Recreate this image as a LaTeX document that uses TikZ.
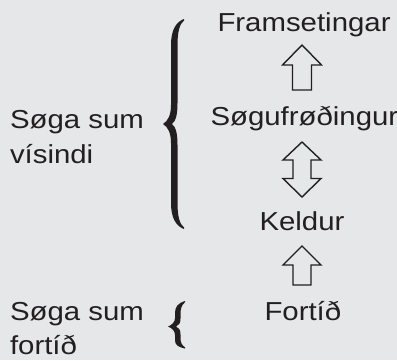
\documentclass[tikz,border=0pt]{standalone}
\usepackage{fontspec}
\setmainfont[FakeStretch=1.13]{Liberation Sans}
\definecolor{bg}{HTML}{E6E7E8}
\definecolor{ink}{HTML}{231F20}
\tikzset{
  lbl/.style={anchor=base west, inner sep=0pt, outer sep=0pt, text=ink, font=\fontsize{26}{34}\selectfont},
  blockarrow/.style={draw=ink, line width=1.4pt, line join=miter, fill=bg},
  bracefill/.style={fill=ink, draw=none}
}
\begin{document}
\begin{tikzpicture}[x=1pt,y=-1pt]
\fill[bg] (0,0) rectangle (397,360);
\useasboundingbox (0,0) rectangle (397,360);
% central column
\node[lbl] (fram) at (217.5,31) {Framsetingar};
\node[lbl] (sogu) at (210.5,125) {Søgufrøðingur};
\node[lbl] (keld) at (259.5,230) {Keldur};
\node[lbl] (fort) at (264.5,320) {Fortíð};
% left labels
\node[lbl] (vis1) at (10,128) {Søga sum};
\node[lbl] (vis2) at (10,163) {vísindi};
\node[lbl] (for1) at (10,320) {Søga sum};
\node[lbl] (for2) at (10,354) {fortíð};
% block arrows
\draw[blockarrow] (302,45) -- (321.5,65) -- (311.5,65) -- (311.5,90) -- (292.5,90) -- (292.5,65) -- (282.5,65) -- cycle;
\draw[blockarrow] (302,142) -- (321,160) -- (311,160) -- (311,178.5) -- (321,178.5) -- (302,197) -- (283,178.5) -- (293,178.5) -- (293,160) -- (283,160) -- cycle;
\draw[blockarrow] (302,246) -- (321,265) -- (311,265) -- (311,285) -- (293,285) -- (293,265) -- (283,265) -- cycle;
% big brace
\fill[bracefill] (184,19) .. controls (176,22) and (171,30) .. (171,45) -- (171,105)
  .. controls (171,115) and (168,121) .. (163,124)
  .. controls (168,127) and (171,133) .. (171,143) -- (171,203)
  .. controls (171,218) and (176,226) .. (184,229)
  -- (184,227.5) .. controls (179.5,224) and (177.5,216) .. (177.5,203) -- (177.5,145)
  .. controls (177.5,134) and (176,127) .. (172,124)
  .. controls (176,121) and (177.5,114) .. (177.5,103) -- (177.5,45)
  .. controls (177.5,32) and (179.5,24) .. (184,20.5) -- cycle;
% small brace
\fill[bracefill] (185,301) .. controls (178,303) and (175,307) .. (175,313) -- (175,318)
  .. controls (175,322) and (172,325) .. (168,326.5)
  .. controls (172,328) and (175,331) .. (175,335) -- (175,340)
  .. controls (175,345) and (178,347) .. (185,348.5)
  -- (185,347.3) .. controls (181.5,345) and (180.5,342) .. (180.5,338) -- (180.5,334.5)
  .. controls (180.5,330) and (179,327.5) .. (176,326.5)
  .. controls (179,325.5) and (180.5,323) .. (180.5,318.5) -- (180.5,314)
  .. controls (180.5,309) and (181.5,305) .. (185,302.2) -- cycle;
\end{tikzpicture}
\end{document}
